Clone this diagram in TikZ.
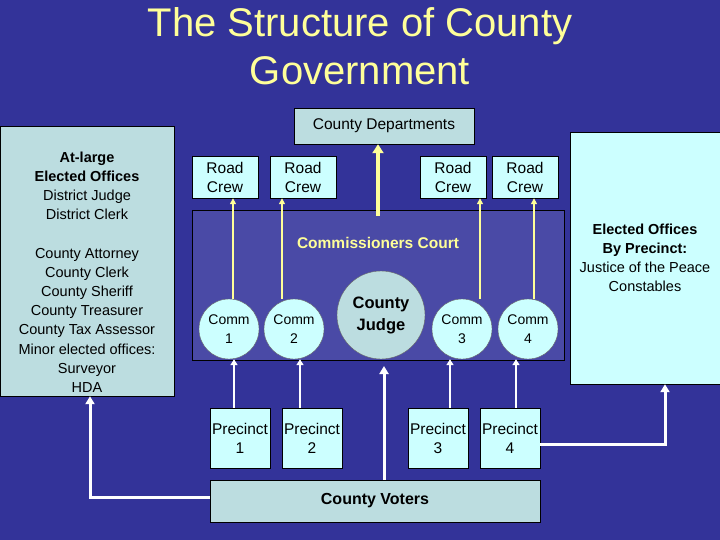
\documentclass[tikz,border=0pt]{standalone}
\usepackage{fontspec}
\setmainfont{Liberation Sans}
\usetikzlibrary{arrows.meta}
\definecolor{bg}{HTML}{333399}
\definecolor{court}{HTML}{4A4AA6}
\definecolor{lcyan}{HTML}{CCFFFF}
\definecolor{gcyan}{HTML}{BCDDE0}
\definecolor{ttl}{HTML}{FFFF99}
\begin{document}
\begin{tikzpicture}[x=1pt,y=-1pt,
  box/.style={draw=black,fill=lcyan,inner sep=0pt,align=center,font=\fontsize{15.5}{19}\selectfont},
  circ/.style={draw=black!60,fill=lcyan,circle,inner sep=0pt,align=center,font=\fontsize{14}{19}\selectfont},
  yarr/.style={ttl,line width=2pt,-{Triangle[length=6pt,width=6pt]}},
  sarr/.style={white,line width=2pt,-{Triangle[length=6pt,width=7pt]}},
  warr/.style={white,line width=3pt,-{Triangle[length=8pt,width=9pt]}}]
\fill[bg] (0,0) rectangle (720,540);
\useasboundingbox (0,0) rectangle (720,540);
\node[ttl,align=center,font=\fontsize{40}{48}\selectfont] (title) at (360,46) {The Structure of County\\Government};
\node[box,fill=gcyan,minimum width=180pt,minimum height=36pt] (dept) at (384,126) {County Departments};
\node[box,minimum width=66pt,minimum height=42pt] (r1) at (225,177) {Road\\Crew};
\node[box,minimum width=66pt,minimum height=42pt] (r2) at (303,177) {Road\\Crew};
\node[box,minimum width=66pt,minimum height=42pt] (r3) at (453,177) {Road\\Crew};
\node[box,minimum width=66pt,minimum height=42pt] (r4) at (525,177) {Road\\Crew};
\node[draw=black,fill=court,minimum width=372pt,minimum height=150pt,inner sep=0pt] (court) at (378,285) {};
\node[ttl,font=\bfseries\fontsize{15.5}{18}\selectfont] (ctl) at (378,243) {Commissioners Court};
\node[circ,minimum size=60pt] (c1) at (229,329) {Comm\\1};
\node[circ,minimum size=60pt] (c2) at (294,329) {Comm\\2};
\node[circ,fill=gcyan,minimum size=88pt,font=\bfseries\fontsize{16.5}{22}\selectfont] (judge) at (381,315) {County\\Judge};
\node[circ,minimum size=60pt] (c3) at (462,329) {Comm\\3};
\node[circ,minimum size=60pt] (c4) at (528,329) {Comm\\4};
\node[box,minimum width=60pt,minimum height=60pt] (p1) at (240,438) {Precinct\\1};
\node[box,minimum width=60pt,minimum height=60pt] (p2) at (312,438) {Precinct\\2};
\node[box,minimum width=60pt,minimum height=60pt] (p3) at (438,438) {Precinct\\3};
\node[box,minimum width=60pt,minimum height=60pt] (p4) at (510,438) {Precinct\\4};
\node[box,fill=gcyan,minimum width=330pt,minimum height=42pt,font=\bfseries\fontsize{16}{19}\selectfont] (voters) at (375,501) {County Voters};
\node[box,fill=gcyan,minimum width=174pt,minimum height=270pt] (left) at (87,261) {};
\node[align=center,font=\fontsize{14.5}{19.2}\selectfont,anchor=north] (ltxt) at (87,148) {\textbf{At-large}\\\textbf{Elected Offices}\\District Judge\\District Clerk\\[19.2pt]County Attorney\\County Clerk\\County Sheriff\\County Treasurer\\County Tax Assessor\\Minor elected offices:\\Surveyor\\HDA};
\node[box,minimum width=150pt,minimum height=252pt] (right) at (645,258) {};
\node[align=center,font=\fontsize{14.5}{19.2}\selectfont] (rtxt) at (645,258) {\textbf{Elected Offices}\\\textbf{By Precinct:}\\Justice of the Peace\\Constables};
% yellow arrows
\draw[yarr] (c1.north -| 233,0) -- (r1.south -| 233,0);
\draw[yarr] (c2.north -| 282,0) -- (r2.south -| 282,0);
\draw[yarr] (c3.north -| 480,0) -- (r3.south -| 480,0);
\draw[yarr] (c4.north -| 534,0) -- (r4.south -| 534,0);
\draw[ttl,line width=4pt,-{Triangle[length=9pt,width=11pt]}] (court.north -| 378,0) ++(0,6) -- (dept.south -| 378,0);
% white arrows
\draw[sarr] (p1.north -| 234,0) -- (c1.south -| 234,0);
\draw[sarr] (p2.north -| 300,0) -- (c2.south -| 300,0);
\draw[sarr] (p3.north -| 450,0) -- (c3.south -| 450,0);
\draw[sarr] (p4.north -| 516,0) -- (c4.south -| 516,0);
\draw[warr] (voters.north -| 384,0) -- (384,366);
\draw[warr] (voters.west |- 0,497) -- (90,497) -- (left.south -| 90,0);
\draw[warr] (p4.east |- 0,444) -- (665,444) -- (right.south -| 665,0);
\end{tikzpicture}
\end{document}
